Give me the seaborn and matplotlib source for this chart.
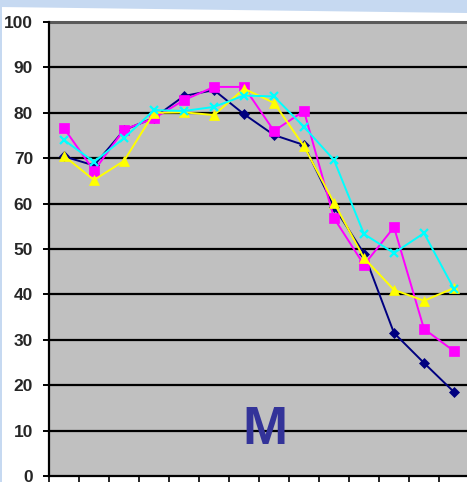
import matplotlib
matplotlib.use("Agg")
import matplotlib.pyplot as plt
from matplotlib.patches import Polygon
import seaborn as sns
import pandas as pd
import numpy as np

# Fourteen consecutive readings for four series
points = list(range(1, 15))
navy_vals = [70.4, 68.4, 76.2, 78.9, 83.7, 85.0, 79.7, 75.1, 72.9, 59.3, 49.0, 31.5, 24.9, 18.5]
magenta_vals = [76.6, 67.2, 76.3, 78.8, 82.8, 85.7, 85.7, 76.0, 80.4, 56.8, 46.5, 54.8, 32.4, 27.5]
yellow_vals = [70.5, 65.2, 69.4, 80.0, 80.1, 79.5, 85.3, 82.2, 72.6, 60.2, 48.0, 41.0, 38.6, 41.4]
cyan_vals = [74.0, 69.2, 74.4, 80.6, 80.4, 81.3, 83.8, 83.6, 76.9, 69.6, 53.3, 49.1, 53.5, 41.2]
y_ticks = [0, 10, 20, 30, 40, 50, 60, 70, 80, 90, 100]
panel_label = "M"

series_names = ["navy", "magenta", "yellow", "cyan"]
series_vals = [navy_vals, magenta_vals, yellow_vals, cyan_vals]
frames = [pd.DataFrame({"point": np.arange(len(points)), "value": v, "series": n})
          for n, v in zip(series_names, series_vals)]
df = pd.concat(frames, ignore_index=True)

palette = {"navy": "#000080", "magenta": "#ff00ff", "yellow": "#ffff00", "cyan": "#00ffff"}
markers = {"navy": "D", "magenta": "s", "yellow": "^", "cyan": "x"}
msizes = {"navy": 5.2, "magenta": 6.8, "yellow": 7.6, "cyan": 6.0}

sns.set_style("white")
plt.rcParams["font.family"] = ["Liberation Sans", "DejaVu Sans"]

fig = plt.figure(figsize=(4.67, 4.82), dpi=100)
fig.patch.set_facecolor("white")
# light blue frame along the top and left edges
fig.add_artist(Polygon([[0, 1], [1, 1], [1, 1 - 13 / 482], [0, 1 - 7 / 482]],
                       closed=True, transform=fig.transFigure,
                       facecolor="#c6d9f1", edgecolor="none"))
fig.add_artist(Polygon([[0, 0], [2 / 467, 0], [2 / 467, 1], [0, 1]],
                       closed=True, transform=fig.transFigure,
                       facecolor="#c6d9f1", edgecolor="none"))

ax = fig.add_axes([49 / 467, 6 / 482, 420 / 467, 454 / 482])
ax.set_facecolor("#c0c0c0")

for y in y_ticks[1:-1]:
    ax.axhline(y, color="black", lw=1.6, zorder=1)
ax.axhline(y_ticks[-1], color="#5a5a5a", lw=2.2, zorder=1, clip_on=False)

for name in series_names:
    sub = df[df["series"] == name]
    mk = markers[name]
    sns.lineplot(data=sub, x="point", y="value", ax=ax, color=palette[name],
                 lw=1.4, marker=mk, markersize=msizes[name],
                 markeredgecolor=palette[name],
                 markeredgewidth=1.6 if mk == "x" else 0.5,
                 legend=False, zorder=3)

ax.set_xlim(-0.5, len(points) - 0.5)
ax.set_ylim(0, 100)
ax.set_yticks(y_ticks)
ax.set_yticklabels([str(t) for t in y_ticks], fontsize=12.5, fontweight="bold")
ax.set_xticks(np.arange(len(points)) - 0.5)
ax.set_xticklabels([])
ax.tick_params(axis="y", direction="out", length=4.3, width=1.4, color="black", pad=7.2, left=True)
ax.tick_params(axis="x", direction="out", length=4, width=1.2, color="black", bottom=True)
ax.set_xlabel("")
ax.set_ylabel("")

for side in ["top", "right"]:
    ax.spines[side].set_visible(False)
for side in ["left", "bottom"]:
    ax.spines[side].set_color("black")
    ax.spines[side].set_linewidth(1.6)

ax.text(6.7, 7.0, panel_label, ha="center", va="baseline", fontsize=39,
        fontweight="bold", color="#333399", zorder=4)

fig.savefig("out.png", dpi=100)
